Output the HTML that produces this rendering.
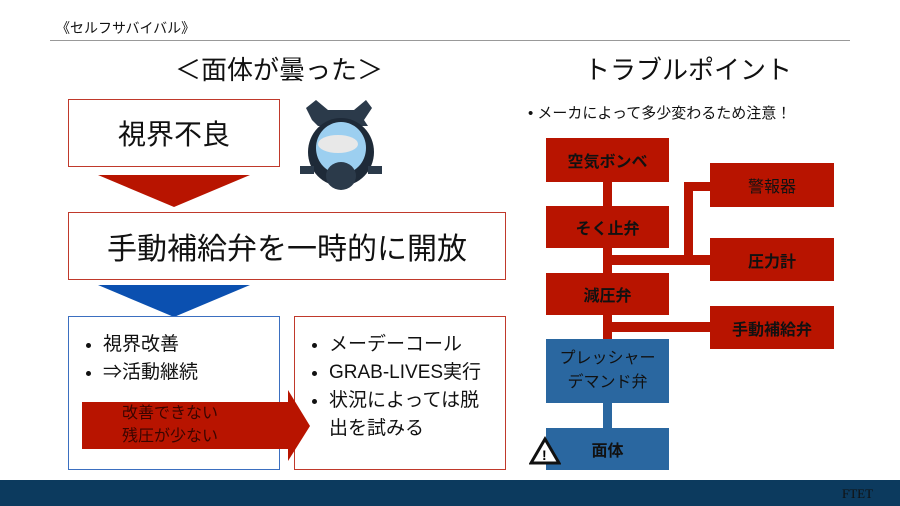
<!DOCTYPE html>
<html><head><meta charset="utf-8"><style>
body{margin:0;width:900px;height:506px;position:relative;background:#fff;overflow:hidden;font-family:"Liberation Sans","Noto Sans CJK JP",sans-serif;color:#111}
.a{position:absolute;box-sizing:border-box}
.c{display:flex;align-items:center;justify-content:center;text-align:center}
.r{background:#b81400;font-weight:bold;font-size:16px;color:#111}
.b{background:#2a67a0;font-size:16px;color:#111}
.cn{position:absolute;background:#b81400}
ul{margin:0;padding-left:34px}
</style></head><body>
<div class="a" style="left:56px;top:18px;font-size:14px">《セルフサバイバル》</div>
<div class="a" style="left:50px;top:40px;width:800px;height:1px;background:#999"></div>
<div class="a" style="left:175px;top:50px;font-size:26px">＜面体が曇った＞</div>
<div class="a" style="left:584px;top:50px;font-size:26px">トラブルポイント</div>
<div class="a" style="left:528px;top:102px;font-size:15px">• メーカによって多少変わるため注意！</div>

<div class="a c" style="left:68px;top:99px;width:212px;height:68px;border:1px solid #c0392b;font-size:28px">視界不良</div>
<svg class="a" style="left:98px;top:175px" width="152" height="32"><polygon points="0,0 152,0 76,32" fill="#b81400"/></svg>
<svg class="a" style="left:298px;top:96px" width="86" height="96">
<path d="M18 4 L30 14 L56 14 L68 4 L74 12 L66 24 L70 30 L20 30 L14 24 L8 12Z" fill="#2b3a4a"/>
<ellipse cx="43" cy="56" rx="33" ry="34" fill="#1e2a38"/>
<ellipse cx="43" cy="52" rx="25" ry="26" fill="#9ccff0"/>
<ellipse cx="40" cy="48" rx="20" ry="9" fill="#e8e8e8"/>
<ellipse cx="43" cy="80" rx="15" ry="14" fill="#2b3a4a"/>
<rect x="2" y="70" width="14" height="8" fill="#2b3a4a"/><rect x="70" y="70" width="14" height="8" fill="#2b3a4a"/>
</svg>
<div class="a c" style="left:68px;top:212px;width:438px;height:68px;border:1px solid #c0392b;font-size:30px">手動補給弁を一時的に開放</div>
<svg class="a" style="left:98px;top:285px" width="152" height="32"><polygon points="0,0 152,0 76,32" fill="#0b50b0"/></svg>
<div class="a" style="left:68px;top:316px;width:212px;height:154px;border:1px solid #3b6fc0;padding-top:14px;font-size:19px;line-height:28px"><ul><li>視界改善</li><li>⇒活動継続</li></ul></div>
<div class="a" style="left:294px;top:316px;width:212px;height:154px;border:1px solid #c0392b;padding-top:14px;padding-right:16px;font-size:19px;line-height:28px"><ul><li>メーデーコール</li><li>GRAB-LIVES実行</li><li>状況によっては脱出を試みる</li></ul></div>
<svg class="a" style="left:82px;top:390px" width="230" height="72"><polygon points="0,12 206,12 206,0 228,36 206,71 206,59 0,59" fill="#b81400"/></svg>
<div class="a" style="left:122px;top:402px;font-size:16px;line-height:23px;color:#3a0500">改善できない<br>残圧が少ない</div>

<div class="cn" style="left:603px;top:180px;width:9px;height:160px"></div>
<div class="a" style="left:603px;top:400px;width:9px;height:30px;background:#2a67a0"></div>
<div class="cn" style="left:612px;top:255px;width:100px;height:10px"></div>
<div class="cn" style="left:684px;top:182px;width:9px;height:78px"></div>
<div class="cn" style="left:684px;top:182px;width:28px;height:9px"></div>
<div class="cn" style="left:612px;top:322px;width:100px;height:10px"></div>
<div class="a c r" style="left:546px;top:138px;width:123px;height:44px">空気ボンベ</div>
<div class="a c r" style="left:546px;top:206px;width:123px;height:42px">そく止弁</div>
<div class="a c r" style="left:546px;top:273px;width:123px;height:42px">減圧弁</div>
<div class="a c b" style="left:546px;top:339px;width:123px;height:64px;line-height:24px">プレッシャー<br>デマンド弁</div>
<div class="a c b" style="left:546px;top:428px;width:123px;height:42px;font-weight:bold">面体</div>
<svg class="a" style="left:529px;top:436px" width="32" height="30"><polygon points="16,3 30,27 2,27" fill="#fff" stroke="#111" stroke-width="3"/><text x="13" y="24" font-size="14" font-weight="bold" font-family="Liberation Sans">!</text></svg>
<div class="a c r" style="left:710px;top:163px;width:124px;height:44px;font-weight:normal">警報器</div>
<div class="a c r" style="left:710px;top:238px;width:124px;height:43px">圧力計</div>
<div class="a c r" style="left:710px;top:306px;width:124px;height:43px">手動補給弁</div>

<div class="a" style="left:0;top:480px;width:900px;height:26px;background:#0c3a5e"></div>
<div class="a" style="left:842px;top:486px;font-family:'Liberation Serif',serif;font-size:13px;color:#111">FTET</div>
</body></html>
